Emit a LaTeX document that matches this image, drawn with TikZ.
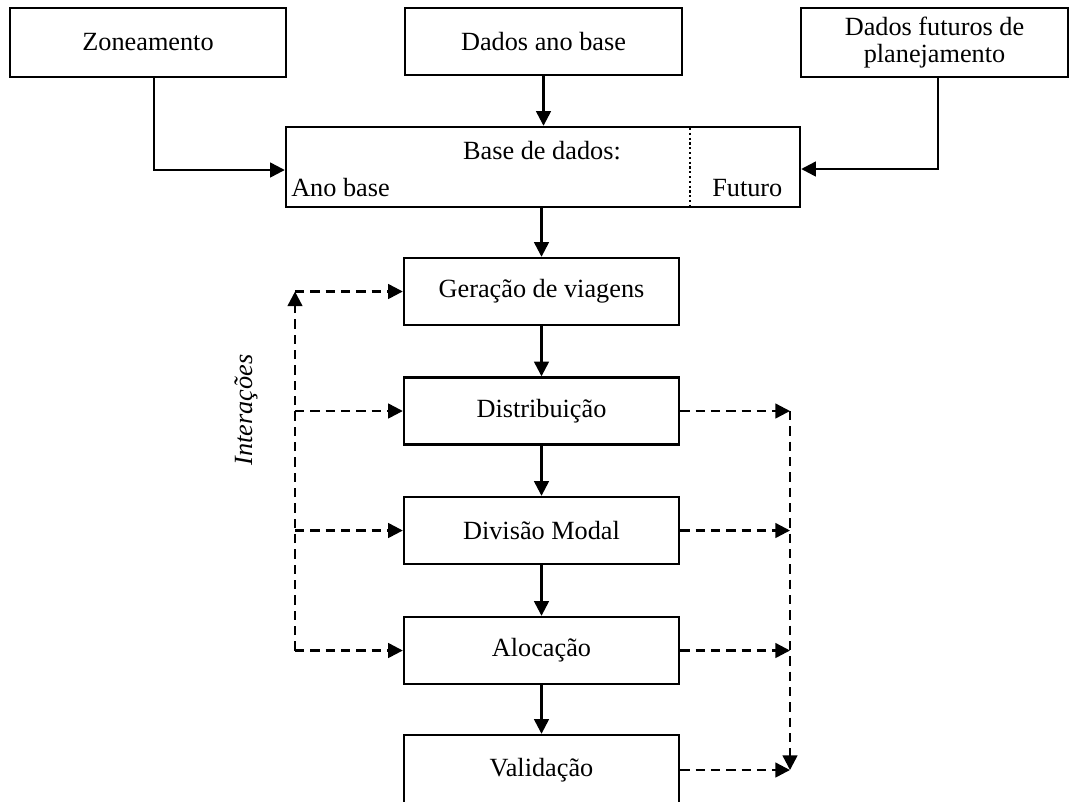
\documentclass[tikz,border=0pt]{standalone}
\usepackage{fontspec}
\setmainfont{Liberation Serif}
\usetikzlibrary{arrows.meta,calc}
\begin{document}
\begin{tikzpicture}[x=0.75pt,y=-0.75pt,
  txt/.style={font=\fontsize{19.7}{20.25}\selectfont},
  box/.style={draw,line width=1.8pt,inner sep=0pt,align=center,txt},
  pbox/.style={box,minimum width=206.25pt,minimum height=50.25pt},
  arr/.style={line width=1.8pt,-{Triangle[length=11pt,width=11pt]}},
  darr/.style={arr,dash pattern=on 7pt off 4.5pt},
  dotl/.style={line width=1.6pt,dash pattern=on 1.6pt off 2pt},
]
\useasboundingbox (0,0) rectangle (1069,801);
\clip (0,0) rectangle (1069,801);

% top boxes
\node[box,minimum width=207pt,minimum height=51.75pt] (zone) at (148,42.5) {Zoneamento};
\node[box,minimum width=207.75pt,minimum height=50.25pt] (dab) at (543.5,41.5) {Dados ano base};
\node[box,minimum width=200.25pt,minimum height=51.75pt] (dfp) at (934.5,42.5) {Dados futuros de\\planejamento};

% data base
\node[box,minimum width=385.5pt,minimum height=60pt] (base) at (543,167) {};
\node[txt,inner sep=0pt] (basetitle) at (542,151) {Base de dados:};
\node[txt,inner sep=0pt,anchor=west] (anobase) at (291,188) {Ano base};
\node[txt,inner sep=0pt,anchor=west] (futuro) at (712,188) {Futuro};
\coordinate (divtop) at (690,128);
\coordinate (divbot) at (690,206);
\draw[dotl] (divtop) -- (divbot);

% process boxes
\node[pbox] (ger) at (541.5,291.5) {Geração de viagens};
\node[pbox] (dist) at (541.5,411) {Distribuição};
\node[pbox] (div) at (541.5,530.5) {Divisão Modal};
\node[pbox] (aloc) at (541.5,650.5) {Alocação};
\node[pbox,minimum height=52.5pt] (valid) at (541.5,770) {Validação};

% solid connectors
\draw[arr] ([xshift=4.5pt]zone.south) |- ([yshift=-2.25pt]base.west);
\draw[arr] (dab.south) -- (dab.south |- base.north);
\draw[arr] ([xshift=2.6pt]dfp.south) |- ([yshift=-1.5pt]base.east);
\draw[arr] (base.south -| ger.north) -- (ger.north);
\draw[arr] (ger.south) -- (dist.north);
\draw[arr] (dist.south) -- (div.north);
\draw[arr] (div.south) -- (aloc.north);
\draw[arr] (aloc.south) -- (valid.north);

% left feedback
\coordinate (lt) at (295,291.5);
\coordinate (lb) at (aloc.west -| lt);
\draw[darr] (lb) -- (lt);
\draw[darr] (lt) -- (ger.west);
\draw[darr] (dist.west -| lt) -- (dist.west);
\draw[darr] (div.west -| lt) -- (div.west);
\draw[darr] (lb) -- (aloc.west);
\node[txt,inner sep=0pt,rotate=90,font=\fontsize{19.7}{20.25}\selectfont\itshape] (inter) at (246,410) {Interações};

% right feedback
\coordinate (rt) at (790,411);
\coordinate (rb) at (valid.east -| rt);
\draw[darr] (dist.east) -- (rt);
\draw[darr] (div.east) -- (div.east -| rt);
\draw[darr] (aloc.east) -- (aloc.east -| rt);
\draw[darr] (valid.east) -- (rb);
\draw[darr] (rt) -- (rb);
\end{tikzpicture}
\end{document}
